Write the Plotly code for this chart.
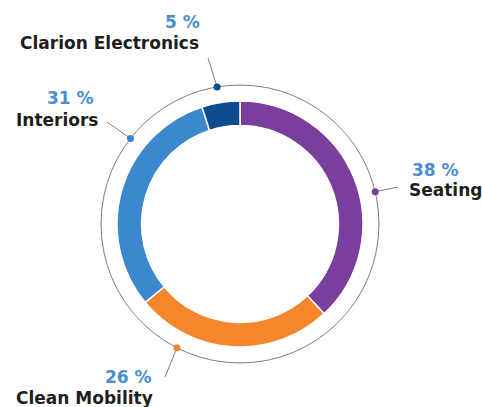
import math
import plotly.graph_objects as go

# ---- data ----
segments = ["Seating", "Clean Mobility", "Interiors", "Clarion Electronics"]
shares = [38, 26, 31, 5]
pct_labels = ["38 %", "26 %", "31 %", "5 %"]
colors = ["#7A3F9E", "#F5862B", "#3B88CF", "#0E4C92"]

# ---- layout config (pixel space, 482x407) ----
W, H = 482, 407
CX, CY = 240, 224          # donut centre
R_OUT = 123                # donut outer radius
R_RING = 139               # thin outer ring radius
HOLE = 0.80
dot_angles = [76.6, 207, 308, 350.5]     # clockwise from top
leader_end = [(398, 187), (165, 377), (107, 122), (208, 58)]
pct_pos = [(435, 170), (128, 377), (70, 98), (182, 22)]
name_pos = [(445, 190), (84, 398), (57, 120), (109, 43)]

fig = go.Figure()

fig.add_trace(go.Pie(
    labels=segments, values=shares, sort=False, direction="clockwise",
    rotation=0, hole=HOLE, textinfo="none", hoverinfo="label+percent",
    marker=dict(colors=colors, line=dict(color="white", width=1.5)),
    domain=dict(x=[(CX - R_OUT) / W, (CX + R_OUT) / W],
                y=[(H - CY - R_OUT) / H, (H - CY + R_OUT) / H]),
    showlegend=False,
))

# thin outer ring
fig.add_shape(type="circle", xref="x", yref="y",
              x0=CX - R_RING, x1=CX + R_RING, y0=CY - R_RING, y1=CY + R_RING,
              line=dict(color="#7E7E7E", width=1), layer="below")

for i, seg in enumerate(segments):
    a = math.radians(dot_angles[i])
    dx = CX + R_RING * math.sin(a)
    dy = CY - R_RING * math.cos(a)
    ex, ey = leader_end[i]
    fig.add_trace(go.Scatter(x=[dx, ex], y=[dy, ey], mode="lines",
                             line=dict(color="#7E7E7E", width=1),
                             hoverinfo="skip", showlegend=False))
    fig.add_trace(go.Scatter(x=[dx], y=[dy], mode="markers",
                             marker=dict(color=colors[i], size=7),
                             hoverinfo="skip", showlegend=False))
    px, py = pct_pos[i]
    fig.add_annotation(x=px, y=py, xref="x", yref="y", text="<b>" + pct_labels[i] + "</b>",
                       showarrow=False,
                       font=dict(family="DejaVu Sans", size=17, color="#4A8ED0"))
    nx, ny = name_pos[i]
    fig.add_annotation(x=nx, y=ny, xref="x", yref="y", text="<b>" + seg + "</b>",
                       showarrow=False,
                       font=dict(family="DejaVu Sans", size=17, color="#1E1E1E"))

fig.update_xaxes(range=[0, W], visible=False, fixedrange=True)
fig.update_yaxes(range=[H, 0], visible=False, fixedrange=True)
fig.update_layout(width=W, height=H, margin=dict(l=0, r=0, t=0, b=0),
                  paper_bgcolor="white", plot_bgcolor="white")

fig.write_html("out.html", config={"displayModeBar": False},
               post_script="document.body.style.margin='0';")
